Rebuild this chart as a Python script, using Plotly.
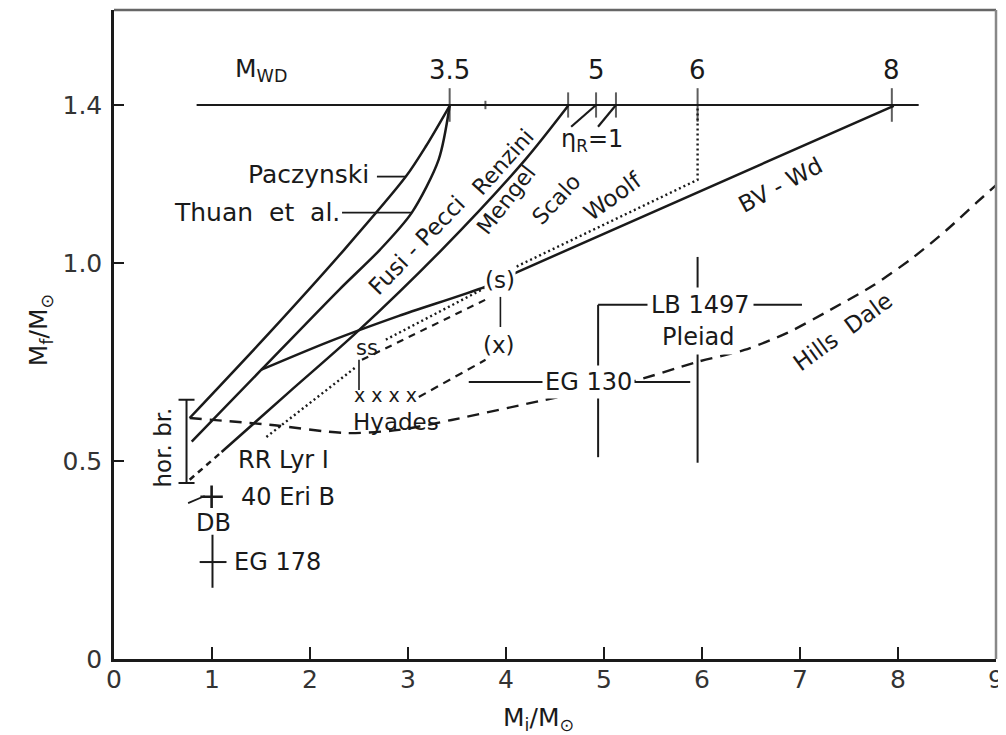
import plotly.graph_objects as go

# ---------------- data ----------------
pacz_x = [0.772, 1.585, 2.348, 2.978, 3.181, 3.425]
pacz_y = [0.609, 0.824, 1.034, 1.219, 1.295, 1.398]

thuan_x = [0.793, 1.504, 2.297, 2.713, 3.039, 3.313, 3.425]
thuan_y = [0.549, 0.731, 0.933, 1.034, 1.128, 1.262, 1.398]

fusi_x = [1.098, 1.789, 2.470, 3.344, 4.197, 4.634]
fusi_y = [0.523, 0.675, 0.824, 1.034, 1.262, 1.398]
fusi_start_x = [0.772, 1.098]
fusi_start_y = [0.453, 0.523]

mengel_x = [4.665, 4.919]
mengel_y = [1.345, 1.400]
scalo_x = [4.939, 5.122]
scalo_y = [1.345, 1.400]

bvwd_x = [1.504, 2.195, 2.907, 3.791, 4.126, 7.957]
bvwd_y = [0.731, 0.802, 0.867, 0.941, 0.979, 1.398]

woolf_x = [2.774, 3.750, 4.126, 4.939, 5.955, 5.955]
woolf_y = [0.807, 0.933, 0.994, 1.090, 1.211, 1.398]
woolf_low_x = [1.555, 2.470]
woolf_low_y = [0.561, 0.738]
ss_dash_x = [2.530, 3.791]
ss_dash_y = [0.756, 0.908]

hyades_x = [3.110, 3.791]
hyades_y = [0.662, 0.756]
ss_link_x = [2.50, 2.50]
ss_link_y = [0.680, 0.756]
sx_link_x = [3.943, 3.943]
sx_link_y = [0.839, 0.915]

hills_x = [0.772, 1.585, 2.368, 2.907, 3.445, 4.400, 5.244, 5.955, 6.433, 6.870, 7.307,
           7.754, 8.161, 8.496, 8.801, 9.004]
hills_y = [0.609, 0.592, 0.571, 0.579, 0.604, 0.655, 0.698, 0.751, 0.781, 0.824, 0.882,
           0.945, 1.016, 1.084, 1.153, 1.198]

mwd_level = 1.4
mwd_line_x = [0.843, 8.211]
mwd_ticks = [3.425, 3.79, 4.634, 4.919, 5.122, 5.955, 7.937]
mwd_tick_sizes = [24, 6, 18, 18, 18, 24, 24]
mwd_label_x = [3.425, 4.919, 5.955, 7.937]
mwd_labels = ["3.5", "5", "6", "8"]

# error crosses: x, y, x_lo, x_hi, y_lo, y_hi
eg130 = (4.94, 0.700, 3.62, 5.88, 0.510, 0.895)
lb1497 = (5.955, 0.895, 4.94, 7.02, 0.496, 1.016)
eg178 = (1.005, 0.245, 0.874, 1.148, 0.180, 0.314)
horbr = (0.74, 0.55, 0.445, 0.655)
eri40 = (0.996, 0.410)

x_ticks = [0, 1, 2, 3, 4, 5, 6, 7, 8, 9]
y_ticks = [0, 0.5, 1.0, 1.4]
y_ticktext = ["0", "0.5", "1.0", "1.4"]

INK = "#1a1a1a"
FONT = "DejaVu Sans"

fig = go.Figure()


def add_line(x, y, dash="solid", width=2.5, shape="linear"):
    fig.add_trace(go.Scatter(x=x, y=y, mode="lines",
                             line=dict(color=INK, width=width, dash=dash, shape=shape, smoothing=0.8),
                             hoverinfo="skip"))


add_line(pacz_x, pacz_y, shape="spline")
add_line(thuan_x, thuan_y, shape="spline")
add_line(fusi_x, fusi_y, shape="spline")
add_line(fusi_start_x, fusi_start_y, dash="6px,5px")
add_line(mengel_x, mengel_y, width=2.2)
add_line(scalo_x, scalo_y, width=2.2)
add_line(bvwd_x, bvwd_y, shape="spline")
add_line(woolf_x, woolf_y, dash="2px,3px", width=2.4)
add_line(woolf_low_x, woolf_low_y, dash="2px,3px", width=2.4)
add_line(ss_dash_x, ss_dash_y, dash="7px,6px", width=2.2)
add_line(hyades_x, hyades_y, dash="8px,6px", width=2.2)
add_line(ss_link_x, ss_link_y, width=1.6)
add_line(sx_link_x, sx_link_y, width=1.6)
add_line(hills_x, hills_y, dash="12px,8px", width=2.4, shape="spline")
add_line(mwd_line_x, [mwd_level, mwd_level], width=2.2)

# ticks on the M_WD line
fig.add_trace(go.Scatter(x=mwd_ticks, y=[mwd_level] * len(mwd_ticks), mode="markers",
                         marker=dict(symbol="line-ns-open", size=mwd_tick_sizes, color=INK,
                                     line=dict(color=INK, width=2)),
                         hoverinfo="skip"))


def add_cross(c, width_cap=0):
    x, y, xl, xh, yl, yh = c
    fig.add_trace(go.Scatter(x=[x], y=[y], mode="markers", marker=dict(size=1, color=INK),
                             error_x=dict(type="data", symmetric=False, array=[xh - x], arrayminus=[x - xl],
                                          color=INK, thickness=2, width=width_cap),
                             error_y=dict(type="data", symmetric=False, array=[yh - y], arrayminus=[y - yl],
                                          color=INK, thickness=2, width=width_cap),
                             hoverinfo="skip"))


add_cross(eg130)
add_cross(lb1497)
add_cross(eg178)

# horizontal-branch bracket
hx, hy, hlo, hhi = horbr
fig.add_trace(go.Scatter(x=[hx], y=[hy], mode="markers", marker=dict(size=1, color=INK),
                         error_y=dict(type="data", symmetric=False, array=[hhi - hy], arrayminus=[hy - hlo],
                                      color=INK, thickness=2, width=8),
                         hoverinfo="skip"))

# 40 Eri B
fig.add_trace(go.Scatter(x=[eri40[0]], y=[eri40[1]], mode="markers",
                         marker=dict(symbol="cross-thin-open", size=16, color=INK,
                                     line=dict(color=INK, width=2.6)),
                         hoverinfo="skip"))
add_line([eri40[0] - 0.24, eri40[0] - 0.07], [eri40[1] - 0.016, eri40[1] + 0.002], width=1.8)

# ---------------- text ----------------
ann = []


def txt(x, y, s, size=24, angle=0, xanchor="center", bg=None, pad=1):
    d = dict(x=x, y=y, xref="x", yref="y", text=s, showarrow=False, textangle=angle,
             xanchor=xanchor, yanchor="middle", font=dict(family=FONT, size=size, color=INK),
             borderpad=pad)
    if bg:
        d["bgcolor"] = bg
    ann.append(d)


txt(1.504, 1.489, "M<sub>WD</sub>", size=25)
for lx, lt in zip(mwd_label_x, mwd_labels):
    txt(lx, 1.489, lt, size=26)

txt(2.622, 1.224, "Paczynski", size=25, xanchor="right")
add_line([2.683, 2.978], [1.219, 1.219], width=1.8)
txt(2.327, 1.128, "Thuan  et  al.", size=25, xanchor="right")
add_line([2.327, 3.039], [1.128, 1.128], width=1.8)

txt(3.089, 1.047, "Fusi - Pecci", size=23, angle=-46)
txt(3.974, 1.257, "Renzini", size=22, angle=-48)
txt(4.004, 1.161, "Mengel", size=22, angle=-52)
txt(4.512, 1.161, "Scalo", size=22, angle=-47)
txt(5.091, 1.171, "Woolf", size=23, angle=-36)
txt(4.878, 1.310, "η<sub>R</sub>=1", size=24)
txt(6.799, 1.198, "BV - Wd", size=23, angle=-28)
txt(7.429, 0.827, "Hills  Dale", size=23, angle=-36)

txt(5.986, 0.895, "LB 1497", bg="white", pad=3)
txt(5.965, 0.814, "Pleiad", bg="white", pad=3)
txt(4.837, 0.700, "EG 130", bg="white", pad=2)
txt(3.943, 0.958, "(s)", size=23, bg="white", pad=0)
txt(3.933, 0.794, "(x)", size=23, bg="white", pad=0)
txt(2.581, 0.786, "ss", size=21)
txt(2.774, 0.666, "x x x x", size=19)
txt(2.876, 0.600, "Hyades", size=23)

txt(1.728, 0.503, "RR Lyr I", size=24)
txt(1.778, 0.410, "40 Eri B", size=24)
txt(1.016, 0.344, "DB", size=24)
txt(1.667, 0.245, "EG 178", size=24)
txt(0.498, 0.534, "hor. br.", size=23, angle=-90)

# axis titles
ann.append(dict(x=-0.104, y=0.507, xref="paper", yref="paper", showarrow=False, textangle=-90,
                text="M<sub>f</sub>/M<sub>⊙</sub>", font=dict(family=FONT, size=25, color=INK)))
ann.append(dict(x=0.481, y=-0.093, xref="paper", yref="paper", showarrow=False,
                text="M<sub>i</sub>/M<sub>⊙</sub>", yanchor="middle",
                font=dict(family=FONT, size=25, color=INK)))

fig.update_layout(
    width=998, height=727,
    margin=dict(l=106, r=6, t=2, b=76),
    plot_bgcolor="white", paper_bgcolor="white",
    showlegend=False,
    annotations=ann,
    shapes=[
        dict(type="line", xref="paper", yref="paper", x0=0, x1=1, y0=1, y1=1,
             line=dict(color="#666666", width=2.5)),
        dict(type="line", xref="paper", yref="paper", x0=1, x1=1, y0=0, y1=1,
             line=dict(color="#888888", width=2.5)),
    ],
    xaxis=dict(range=[0, 9], tickvals=x_ticks, ticks="inside", ticklen=12, tickwidth=2,
               tickcolor=INK, showline=True, linecolor=INK, linewidth=2.5, showgrid=False,
               zeroline=False, ticklabelstandoff=-4, ticklabeloverflow="allow",
               tickfont=dict(family=FONT, size=25, color="#333333")),
    yaxis=dict(range=[0, 1.64], tickvals=y_ticks, ticktext=y_ticktext, ticks="inside",
               ticklen=10, tickwidth=2, tickcolor=INK, showline=True, linecolor=INK,
               linewidth=2.5, showgrid=False, zeroline=False, ticklabelstandoff=4,
               tickfont=dict(family=FONT, size=25, color="#333333")),
)

fig.write_html("out.html")
